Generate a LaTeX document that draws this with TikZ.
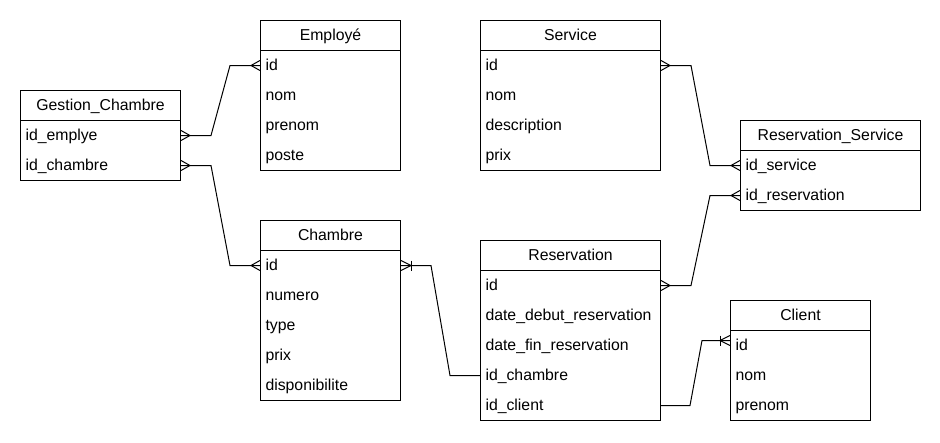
\documentclass[tikz,border=0pt]{standalone}
\usepackage{fontspec}
\setmainfont{Liberation Sans}
\newcommand\ertable[7]{% name, x, y, width, nrows, title, key/text list
  \draw[tbl] (#2,#3) rectangle ++(#4,30+30*#5);
  \draw[tbl] (#2,#3+30) -- ++(#4,0);
  \node[hdr, minimum width=#4pt] (#1) at (#2,#3) {#6};
  \foreach \k/\t [count=\i] in {#7} {
    \node[fld, text width={\the\dimexpr #4pt-10pt\relax}] (#1-\k) at (#2,#3+30*\i) {\t};
  }%
}
\begin{document}
\begin{tikzpicture}[x=1pt, y=-1pt, line width=1pt,
  font=\fontsize{15.8}{18}\selectfont,
  tbl/.style={draw=black, fill=white},
  hdr/.style={inner sep=0pt, minimum height=30pt, anchor=north west,
    text height=12.5pt, text depth=2.5pt},
  fld/.style={inner xsep=5pt, inner ysep=0pt, minimum height=30pt, anchor=north west,
    align=left, text height=12.5pt, text depth=2.5pt},
  rel/.style={draw=black, line width=1pt},
  manyR/.pic={\draw[rel] (0,-5) -- (9,0) -- (0,5);},
  manyL/.pic={\draw[rel] (0,-5) -- (-9,0) -- (0,5);},
  onemanyR/.pic={\draw[rel] (0,-5) -- (10,0) -- (0,5); \draw[rel] (10,-5) -- (10,5);},
  onemanyL/.pic={\draw[rel] (0,-5) -- (-10,0) -- (0,5); \draw[rel] (-10,-5) -- (-10,5);}
]
\useasboundingbox[fill=white] (0,0) rectangle (940,442);

\ertable{gc}{20}{90}{160}{2}{Gestion\_Chambre}{emp/id\_emplye, ch/id\_chambre}
\ertable{emp}{260}{20}{140}{4}{Employé}{id/id, nom/nom, prenom/prenom, poste/poste}
\ertable{svc}{480}{20}{180}{4}{Service}{id/id, nom/nom, desc/description, prix/prix}
\ertable{rs}{740}{120}{180}{2}{Reservation\_Service}{svc/id\_service, res/id\_reservation}
\ertable{ch}{260}{220}{140}{5}{Chambre}{id/id, num/numero, type/type, prix/prix, dispo/disponibilite}
\ertable{res}{480}{240}{180}{5}{Reservation}{id/id, deb/date\_debut\_reservation, fin/date\_fin\_reservation, ch/id\_chambre, cl/id\_client}
\ertable{cl}{730}{300}{140}{3}{Client}{id/id, nom/nom, prenom/prenom}

\coordinate (clid) at ([yshift=5pt]cl-id.west);

% connectors
\draw[rel] (gc-emp.east) -- ([xshift=30pt]gc-emp.east) -- ([xshift=-30pt]emp-id.west) -- (emp-id.west);
\draw[rel] (gc-ch.east) -- ([xshift=30pt]gc-ch.east) -- ([xshift=-30pt]ch-id.west) -- (ch-id.west);
\draw[rel] (ch-id.east) -- ([xshift=30pt]ch-id.east) -- ([xshift=-30pt]res-ch.west) -- (res-ch.west);
\draw[rel] (svc-id.east) -- ([xshift=30pt]svc-id.east) -- ([xshift=-30pt]rs-svc.west) -- (rs-svc.west);
\draw[rel] (res-id.east) -- ([xshift=30pt]res-id.east) -- ([xshift=-30pt]rs-res.west) -- (rs-res.west);
\draw[rel] (res-cl.east) -- ([xshift=29pt]res-cl.east) -- ([xshift=-28pt]clid) -- (clid);

% cardinality markers
\pic at (gc-emp.east) {manyR};
\pic at (gc-ch.east) {manyR};
\pic at (emp-id.west) {manyL};
\pic at (ch-id.west) {manyL};
\pic at (ch-id.east) {onemanyR};
\pic at (svc-id.east) {manyR};
\pic at (rs-svc.west) {manyL};
\pic at (rs-res.west) {manyL};
\pic at (res-id.east) {manyR};
\pic at (clid) {onemanyL};
\end{tikzpicture}
\end{document}
